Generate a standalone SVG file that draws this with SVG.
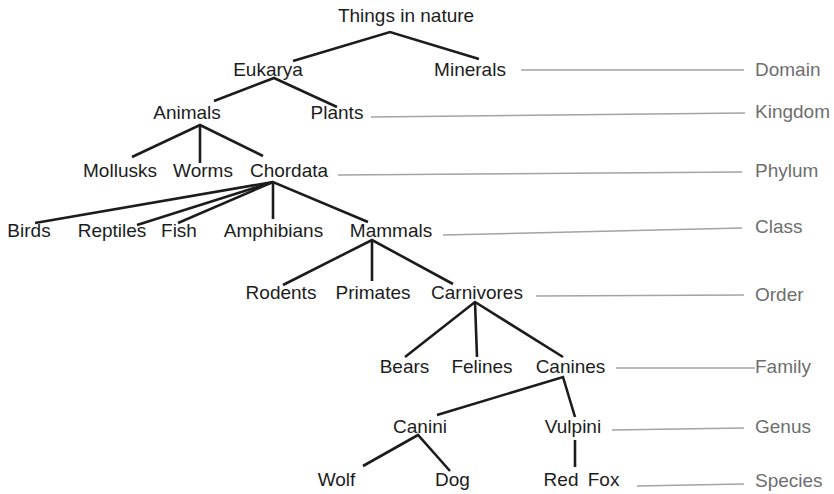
<svg xmlns="http://www.w3.org/2000/svg" width="834" height="494" viewBox="0 0 834 494">
<style>
.n{font-family:"Liberation Sans",Arial,sans-serif;font-size:19px;fill:#1c1c1c;text-anchor:middle}
.r{font-family:"Liberation Sans",Arial,sans-serif;font-size:19px;fill:#6e6e6e}
.e{stroke:#1c1c1c;stroke-width:2.6;fill:none;stroke-linecap:butt;stroke-linejoin:miter}
.g{stroke:#a3a3a3;stroke-width:1.4;fill:none}
</style>
<rect width="834" height="494" fill="#ffffff"/>
<g id="connectors">
<polyline class="e" points="293,61 390,32 479,59"/>
<polyline class="e" points="214,101 274,78 337,107"/>
<polyline class="e" points="132,157 200,125 263,156"/>
<line class="e" x1="200" y1="125" x2="200" y2="163"/>
<polyline class="e" points="35,223 273,182 368,222"/>
<line class="e" x1="273" y1="182" x2="137" y2="225"/>
<line class="e" x1="273" y1="182" x2="178" y2="223"/>
<line class="e" x1="273" y1="182" x2="273" y2="219"/>
<polyline class="e" points="283,285 372,240 453,284"/>
<line class="e" x1="372" y1="240" x2="372" y2="281"/>
<polyline class="e" points="405,357 475,302 563,357"/>
<line class="e" x1="475" y1="302" x2="477" y2="357"/>
<polyline class="e" points="437,415 563,377 575,417"/>
<line class="e" x1="575" y1="440" x2="575" y2="467"/>
<polyline class="e" points="363,466 418,435 450,471"/>
<line class="g" x1="521" y1="70" x2="744" y2="70"/>
<line class="g" x1="371" y1="117" x2="745" y2="113"/>
<line class="g" x1="338" y1="175" x2="742" y2="172"/>
<line class="g" x1="443" y1="235" x2="742" y2="228"/>
<line class="g" x1="536" y1="296" x2="744" y2="295"/>
<line class="g" x1="616" y1="368" x2="755" y2="368"/>
<line class="g" x1="612" y1="430" x2="744" y2="428"/>
<line class="g" x1="637" y1="486" x2="744" y2="484"/>
</g>
<g id="things"><text class="n" x="406" y="22">Things in nature</text></g>
<g id="eukarya"><text class="n" x="268" y="76">Eukarya</text></g>
<g id="minerals"><text class="n" x="470" y="76">Minerals</text></g>
<g id="animals"><text class="n" x="187" y="119">Animals</text></g>
<g id="plants"><text class="n" x="337" y="119">Plants</text></g>
<g id="mollusks"><text class="n" x="120" y="177">Mollusks</text></g>
<g id="worms"><text class="n" x="203" y="177">Worms</text></g>
<g id="chordata"><text class="n" x="289" y="177">Chordata</text></g>
<g id="birds"><text class="n" x="29" y="237">Birds</text></g>
<g id="reptiles"><text class="n" x="112" y="237">Reptiles</text></g>
<g id="fish"><text class="n" x="179" y="237">Fish</text></g>
<g id="amphibians"><text class="n" x="273.5" y="237">Amphibians</text></g>
<g id="mammals"><text class="n" x="391" y="237">Mammals</text></g>
<g id="rodents"><text class="n" x="281" y="299">Rodents</text></g>
<g id="primates"><text class="n" x="373" y="299">Primates</text></g>
<g id="carnivores"><text class="n" x="477" y="299">Carnivores</text></g>
<g id="bears"><text class="n" x="404.5" y="373">Bears</text></g>
<g id="felines"><text class="n" x="482" y="373">Felines</text></g>
<g id="canines"><text class="n" x="570.5" y="373">Canines</text></g>
<g id="canini"><text class="n" x="420" y="433">Canini</text></g>
<g id="vulpini"><text class="n" x="573" y="433">Vulpini</text></g>
<g id="wolf"><text class="n" x="336.5" y="486">Wolf</text></g>
<g id="dog"><text class="n" x="452.5" y="486">Dog</text></g>
<g id="redfox"><text class="n" x="581.5" y="486" word-spacing="4">Red Fox</text></g>
<g id="ranks">
<text class="r" x="755" y="76">Domain</text>
<text class="r" x="755" y="118">Kingdom</text>
<text class="r" x="755" y="177">Phylum</text>
<text class="r" x="755" y="233">Class</text>
<text class="r" x="755" y="301">Order</text>
<text class="r" x="755" y="373">Family</text>
<text class="r" x="755" y="433">Genus</text>
<text class="r" x="755" y="487">Species</text>
</g>
</svg>
